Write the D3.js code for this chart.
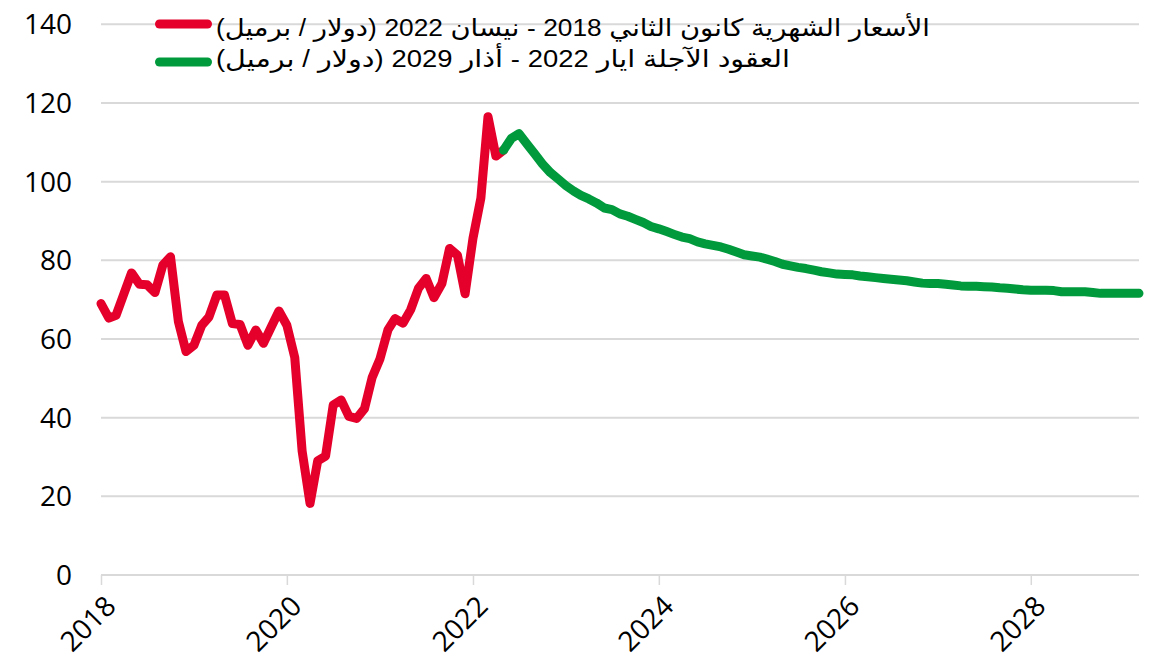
<!DOCTYPE html>
<html>
<head>
<meta charset="utf-8">
<script src="https://cdn.jsdelivr.net/npm/d3@7"></script>
<style>
  html, body { margin: 0; padding: 0; background: #fff; }
  svg { display: block; }
</style>
</head>
<body>
<svg id="chart" width="1151" height="664"></svg>
<script>
// Monthly prices Jan 2018 – Apr 2022 (USD / barrel)
const historyStart = "2018-01-01";
const historyValues = [
  69.0, 65.3, 66.0, 71.5, 76.8, 73.9, 73.8, 71.8, 78.8, 80.9, 64.4, 56.8,
  58.4, 63.5, 65.6, 71.2, 71.2, 63.9, 63.7, 58.4, 62.3, 58.9, 63.1, 67.1,
  63.5, 55.3, 31.5, 18.2, 29.0, 30.2, 43.2, 44.5, 40.3, 39.8, 42.3, 50.2,
  55.0, 62.3, 65.2, 64.0, 67.4, 72.9, 75.4, 70.5, 74.1, 83.0, 81.3, 71.5,
  85.6, 95.8, 116.5, 106.5
];
// Futures May 2022 – Mar 2029 (USD / barrel)
const futuresStart = "2022-05-01";
const futuresValues = [
  108.0, 111.0, 112.2, 109.6, 107.0, 104.5, 102.3, 100.7,
  99.0, 97.6, 96.5, 95.6, 94.6, 93.3, 92.9, 91.8, 91.2, 90.4, 89.6, 88.6,
  88.0, 87.3, 86.6, 85.9, 85.5, 84.7, 84.2, 83.8, 83.4, 82.8, 82.1, 81.4,
  81.1, 80.8, 80.3, 79.7, 79.0, 78.6, 78.2, 77.9, 77.5, 77.1, 76.8, 76.5,
  76.4, 76.3, 76.0, 75.8, 75.6, 75.4, 75.2, 75.0, 74.8, 74.5, 74.2, 74.1,
  74.1, 73.9, 73.7, 73.5, 73.4, 73.4, 73.3, 73.2, 73.0, 72.9, 72.7, 72.5,
  72.4, 72.4, 72.4, 72.3, 72.0, 72.0, 72.0, 72.0, 71.8, 71.6, 71.6, 71.6,
  71.6, 71.6, 71.6
];
const yTicks = [0, 20, 40, 60, 80, 100, 120, 140];
const xTickYears = [2018, 2020, 2022, 2024, 2026, 2028];
const legendLabels = [
  "الأسعار الشهرية كانون الثاني 2018 - نيسان 2022 (دولار / برميل)",
  "العقود الآجلة ايار 2022 - أذار 2029 (دولار / برميل)"
];
const colors = ["#e4002b", "#009a3d"];

const parse = d3.utcParse("%Y-%m-%d");
function monthly(start, values) {
  const s = parse(start);
  return values.map((v, i) => ({ date: d3.utcMonth.offset(s, i), value: v }));
}
const history = monthly(historyStart, historyValues);
const futures = monthly(futuresStart, futuresValues);

const svg = d3.select("#chart");
const x = d3.scaleUtc()
  .domain([parse("2018-01-01"), parse("2029-03-01")])
  .range([101, 1139]);
const y = d3.scaleLinear().domain([0, 140]).range([575, 24.3]);

const axisFont = "'Open Sans', 'Liberation Sans', sans-serif";
const legendFont = "'Liberation Sans', Arial, 'DejaVu Sans', sans-serif";

// gridlines
svg.append("g")
  .selectAll("line")
  .data(yTicks.filter(d => d > 0))
  .join("line")
  .attr("x1", 101).attr("x2", 1139)
  .attr("y1", d => y(d)).attr("y2", d => y(d))
  .attr("stroke", "#d9d9d9").attr("stroke-width", 2);

// y labels
svg.append("g")
  .selectAll("text")
  .data(yTicks)
  .join("text")
  .attr("x", 72).attr("y", d => y(d))
  .attr("dy", "0.36em")
  .attr("text-anchor", "end")
  .attr("font-family", axisFont)
  .attr("font-size", 28)
  .attr("fill", "#000")
  .text(d => d);

// x axis
const xAxis = d3.axisBottom(x)
  .tickValues(xTickYears.map(yr => new Date(Date.UTC(yr, 0, 1))))
  .tickFormat(d3.utcFormat("%Y"))
  .tickSize(10)
  .tickSizeOuter(0);
const gx = svg.append("g").attr("transform", `translate(0,${y(0)})`).call(xAxis);
gx.select(".domain").attr("stroke", "#d9d9d9").attr("stroke-width", 2)
  .attr("d", `M101,0H1139`);
gx.selectAll(".tick line").attr("stroke", "#d9d9d9").attr("stroke-width", 1.5);
gx.selectAll(".tick text")
  .attr("font-family", axisFont)
  .attr("font-size", 28)
  .attr("fill", "#000")
  .attr("text-anchor", "end")
  .attr("dy", null)
  .attr("y", 0)
  .attr("transform", "translate(16,33) rotate(-45)");

// lines
const line = d3.line()
  .x(d => x(d.date))
  .y(d => y(d.value));

svg.append("path")
  .datum(history.concat([futures[0]]))
  .attr("d", line)
  .attr("fill", "none")
  .attr("stroke", colors[0])
  .attr("stroke-width", 9)
  .attr("stroke-linejoin", "round")
  .attr("stroke-linecap", "round");

svg.append("path")
  .datum(futures)
  .attr("d", line)
  .attr("fill", "none")
  .attr("stroke", colors[1])
  .attr("stroke-width", 9)
  .attr("stroke-linejoin", "round")
  .attr("stroke-linecap", "round");

// legend
const legendLineY = [24, 62];
const legendBase = [35.5, 67];
const legendWidth = [714, 574];
const lg = svg.append("g");
legendLabels.forEach((lab, i) => {
  lg.append("rect")
    .attr("x", 155).attr("y", legendLineY[i] - 4.5)
    .attr("width", 57).attr("height", 9)
    .attr("rx", 4.5)
    .attr("fill", colors[i]);
  const t = lg.append("text")
    .attr("x", 216).attr("y", legendBase[i])
    .attr("direction", "rtl")
    .attr("text-anchor", "end")
    .attr("font-family", legendFont)
    .attr("font-size", 24)
    .attr("fill", "#000")
    .attr("textLength", legendWidth[i])
    .attr("lengthAdjust", "spacingAndGlyphs");
  // Arabic runs in the fallback Arabic font, Latin digits/punctuation slightly smaller
  const parts = lab.split(/([0-9()\/\-]+)/);
  parts.forEach(p => {
    if (!p) return;
    const isLatin = /[0-9()\/\-]/.test(p);
    t.append("tspan")
      .attr("font-size", isLatin ? 23 : 24)
      .text(p);
  });
});
</script>
</body>
</html>
